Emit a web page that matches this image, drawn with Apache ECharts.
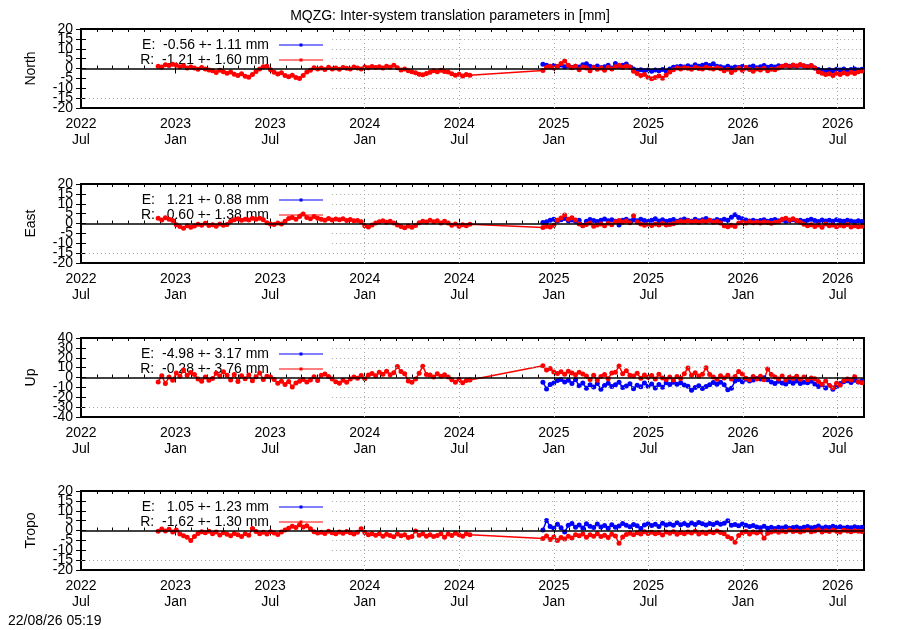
<!DOCTYPE html>
<html>
<head>
<meta charset="utf-8">
<title>MQZG inter-system translation parameters</title>
<script src="https://cdn.jsdelivr.net/npm/echarts@6/dist/echarts.min.js"></script>
<style>
  html, body { margin: 0; padding: 0; background: #fff; }
  #chart { width: 900px; height: 630px; }
</style>
</head>
<body>
<div id="chart"></div>
<script>
// x is counted in days since the left edge of the axis (2022 Jul)
const AXIS_END = "2026-08-21";
const FIRST_START = "2022-11-27";   // first block, red only
const SECOND_START = "2024-12-09";  // second block, red and blue
const STEP_DAYS = 7;
const HALF_YEAR = 182.625;
const KEY_END_DAY = 485;            // grid is hidden under the key left of this

const panelNames = ["North", "East", "Up", "Tropo"];
const panelRange = [20, 20, 40, 20];
const panelStep = [5, 5, 10, 5];
const legendE = ["E:  -0.56 +- 1.11 mm", "E:   1.21 +- 0.88 mm", "E:  -4.98 +- 3.17 mm", "E:   1.05 +- 1.23 mm"];
const legendR = ["R:  -1.21 +- 1.60 mm", "R:   0.60 +- 1.38 mm", "R:  -0.28 +- 3.76 mm", "R:  -1.62 +- 1.30 mm"];

// North
const northR1 = [1.2, 0.8, 1.9, 1.5, 2.1, 1.6, 0.9, 1.4, 0.3, 0.8, 0.2, -0.4, 0.5, -0.2, -0.8,
  -1.1, -2.0, -0.9, -1.6, -2.4, -1.8, -2.9, -3.5, -2.7, -3.9, -4.4, -3.0, -1.5, -0.2, 0.9,
  1.2, -0.6, -1.9, -2.8, -2.2, -3.6, -4.2, -3.4, -4.6, -5.0, -3.5, -1.8, -0.9, 0.4, -0.3,
  0.2, -0.5, 0.6, -0.2, 0.3, -0.4, 0.5, 0.1, -0.3, 0.8, 0.3, -0.2, 0.7, 0.4, 1.0,
  0.5, 0.9, 0.2, 1.1, 0.6, 1.7, 0.4, -0.8, -0.3, -1.2, -1.6, -2.1, -2.9, -3.2, -2.5,
  -1.9, -1.2, -1.7, -0.9, -1.5, -1.8, -2.6, -3.4, -2.9, -3.8, -3.1, -3.4];
const northR2 = [-1.0, 0.6, 1.2, 0.3, 1.0, 2.5, 3.8, 1.6, 0.4, 1.1, -0.6, 0.7, 0.2, -1.1, 0.5,
  -0.4, 0.3, -0.9, 0.6, -0.2, 0.9, 1.6, 0.5, 1.3, 0.8, -1.4, -2.5, -3.6, -3.1, -4.4,
  -5.2, -4.6, -3.8, -4.9, -3.3, -1.8, -0.6, 0.2, -0.3, 0.4, 0.1, -0.4, 0.5, 0.0, -0.2,
  0.6, 0.1, -0.3, 0.4, -0.1, -1.2, -0.4, -2.0, -0.7, 0.2, -0.9, 0.5, -0.5, -1.4, -0.3,
  -0.8, 0.1, -1.1, -0.4, -0.6, 0.2, 1.1, 1.6, 0.9, 1.8, 1.3, 2.0, 1.4, 0.9, 1.5,
  0.3, -1.6, -2.4, -3.1, -2.7, -3.6, -2.4, -3.0, -2.1, -2.8, -1.9, -2.5, -1.6, -1.3];
const northE = [2.2, 1.6, 0.8, 1.5, 1.0, 1.8, 0.9, 1.4, 0.5, 1.2, 0.7, 1.9, 2.4, 1.1, 0.6,
  1.3, 0.4, 0.9, 1.6, 0.2, 2.5, 1.0, 1.7, 2.3, 0.8, -0.3, -0.9, -0.6, -1.2, -0.8,
  -1.4, -0.7, -1.1, -0.5, -1.3, -0.2, 0.6, 0.9, 1.2, 0.7, 1.4, 0.8, 1.9, 1.1, 1.6,
  2.1, 1.5, 2.4, 1.2, 0.9, 0.4, 1.1, 0.3, 0.8, 0.5, 1.0, 0.2, 0.7, 1.3, 0.4,
  0.9, 1.5, 0.6, 1.1, 0.8, 1.4, 1.0, 1.6, 1.2, 1.5, 1.1, 1.7, 1.3, 0.9, 1.4,
  0.2, -0.5, -0.9, -1.1, -0.6, -1.2, -0.4, -0.8, -0.3, -1.0, -0.5, -0.2, -0.7, -0.4];

// East
const eastR1 = [2.6, 1.8, 2.9, 2.2, 1.5, -0.6, -1.5, -2.4, -1.1, -1.9, -1.3, -0.4, -0.9, 0.1, -1.0,
  -0.6, -1.4, -0.2, -0.9, -0.5, 1.1, 1.9, 2.4, 1.6, 2.2, 1.8, 2.7, 2.1, 2.6, 1.9,
  0.4, -0.3, -0.5, 0.2, -0.2, 1.2, 2.5, 3.1, 2.2, 3.6, 4.8, 3.0, 2.4, 3.5, 2.7,
  2.1, 1.6, 2.5, 1.8, 2.3, 1.9, 2.4, 1.5, 2.0, 1.4, 1.5, 0.9, -1.1, -1.8, -0.7,
  0.2, 0.9, 1.4, 0.6, 1.2, 0.3, -0.8, -1.5, -2.2, -1.3, -1.9, -1.0, 0.4, 1.2, 0.7,
  1.6, 0.9, 1.4, 0.3, 1.1, 0.2, -0.9, -0.3, -1.4, -0.6, -1.1, -0.4];
const eastR2 = [-2.0, -1.4, -1.8, -0.9, 1.6, 2.8, 4.3, 2.1, 2.9, 1.8, -0.3, -1.1, -0.5, 0.2, -1.4,
  -0.8, -0.2, -1.2, 0.1, -0.6, 0.9, 1.5, 0.6, 1.3, 0.4, 3.9, 0.8, -0.2, -0.9, -0.4,
  -1.0, -0.3, -0.7, 0.1, -0.8, -0.5, -0.1, 0.6, 1.2, 0.8, 1.4, 0.7, 1.1, 0.5, 1.3,
  0.9, 1.6, 0.6, 1.0, 0.3, -1.2, -1.7, -0.9, -1.5, 0.2, 0.6, 0.2, 0.9, 0.4, 0.7,
  0.3, 0.8, 0.5, 0.1, 0.6, 0.9, 2.1, 2.7, 1.8, 2.4, 1.5, 0.6, -0.4, -1.1, -0.6,
  -1.5, -0.8, -1.9, -0.3, -1.2, -0.7, -1.6, -0.9, -1.3, -0.5, -1.8, -1.1, -1.6, -1.4];
const eastE = [0.5, 0.9, 1.6, 2.2, 1.3, 1.9, 2.5, 1.4, 1.8, 1.1, 1.6, -0.9, 1.2, 2.0, 1.5,
  1.0, 1.7, 2.3, 1.4, 1.9, 1.2, -0.8, 1.6, 2.1, 1.3, 1.8, 1.4, 2.2, 1.5, 1.0,
  1.7, 2.4, 1.3, 1.9, 1.2, 1.5, 2.0, 1.1, 1.8, 2.3, 1.6, 1.2, 2.1, 1.4, 1.9,
  2.5, 1.7, 1.3, 2.0, 1.5, 2.2, 1.6, 3.2, 4.4, 3.1, 2.4, 1.8, 1.3, 1.7, 1.1,
  1.5, 1.9, 1.2, 1.6, 2.0, 1.4, 1.8, 1.1, 1.5, 1.9, 1.3, 1.7, 1.2, 1.6, 2.1,
  1.5, 1.0, 1.8, 1.3, 1.6, 1.2, 1.9, 1.4, 1.1, 1.7, 1.3, 0.9, 1.4, 1.0];

// Up
const upR1 = [-4.5, 1.8, -6.2, 0.5, -2.8, 4.6, 1.2, 7.5, 2.3, 5.1, 3.0, -1.6, -3.8, 0.4, -2.9,
  -1.0, 4.2, 1.5, 5.8, 2.4, -2.6, 3.1, -4.0, 1.8, -1.2, 2.5, -3.4, 0.8, 4.6, -1.9,
  1.2, 0.6, -2.0, -5.8, -3.9, -7.2, -4.1, -9.5, -5.6, -3.8, -1.9, -4.6, -2.5, 0.7, -3.1,
  2.4, 3.6, 0.9, -1.5, -4.2, -5.8, -2.9, -4.7, -1.6, 0.4, -0.8, 1.9, -1.2, 2.6, 4.1,
  1.8, 5.2, 3.4, 6.3, 2.7, 4.8, 11.2, 6.1, 3.9, -3.6, -4.8, -1.5, 4.2, 11.5, 3.1,
  2.6, 0.4, 3.8, 1.2, 2.9, 0.6, -2.4, -4.9, -1.8, -5.2, -3.0, -2.6];
const upR2 = [11.8, 7.5, 9.2, 5.6, 4.1, 5.8, 3.2, 6.4, 4.5, 2.9, 5.2, 3.6, 1.4, -1.9, 2.2,
  -2.8, 0.9, 3.1, -1.2, 4.6, 5.3, 11.6, 3.8, 6.9, 2.4, 1.5, 4.2, -0.8, 2.6, 0.3,
  1.9, -1.4, 3.3, -0.6, -2.1, 0.4, -2.5, 1.1, -0.9, 3.8, 9.6, 2.2, 4.9, 1.5, 3.4,
  9.8, 3.0, 0.6, -1.8, 1.7, -0.5, 2.4, -1.6, 1.1, 6.2, 3.5, -0.8, -2.4, 0.9, -1.6,
  1.2, -2.2, 8.6, 3.1, 0.4, -1.4, 1.6, -2.6, 0.2, -0.9, 1.3, -1.8, 0.5, -2.3, -0.6,
  -1.2, -4.1, -6.8, -3.5, -8.2, -10.5, -5.7, -7.9, -3.2, -1.4, -2.6, 0.8, -4.3, -5.2];
const upE = [-4.8, -11.6, -7.2, -5.5, -3.1, -1.9, -4.6, -2.8, -6.1, -2.3, -8.4, -5.6, -10.9, -7.3, -9.5,
  -6.2, -11.8, -8.1, -5.9, -9.0, -7.4, -4.8, -10.2, -8.6, -6.3, -11.5, -7.8, -9.4, -5.6, -8.9,
  -6.7, -10.6, -7.1, -9.8, -5.4, -7.2, -4.9, -6.8, -5.3, -7.6, -8.8, -12.9, -10.1, -8.3, -11.2,
  -9.0, -7.4, -5.1, -6.8, -4.9, -7.3, -12.4, -10.8, -3.6, -2.1, -4.2, -1.8, -3.5, -2.6, -0.9,
  -1.5, -0.3, -2.4, -4.6, -6.1, -3.8, -5.5, -6.7, -4.1, -5.9, -3.6, -6.2, -4.8, -5.3, -3.9,
  -6.5, -9.1, -7.4, -10.6, -8.2, -11.9, -9.3, -6.0, -4.4, -3.2, -5.1, -2.8, -4.6, -3.5];

// Tropo
const tropoR1 = [-0.4, 0.8, -0.2, 0.6, -0.7, 0.3, -1.8, -2.6, -3.4, -5.0, -3.1, -1.5, -0.6, -1.2, -0.4,
  -1.6, -0.8, -2.3, -1.1, -1.9, -2.6, -1.5, -2.2, -3.0, -1.7, -2.4, 1.0, -0.5, -1.6, -0.9,
  -1.8, -0.6, -1.3, -2.0, -0.8, 0.3, 1.2, 2.1, 1.5, 2.9, 1.8, 2.4, 0.9, -0.6, -1.3,
  -0.9, -1.5, -0.4, -1.1, -1.7, -0.8, -1.4, -0.5, -1.2, -1.8, -0.9, 0.9, -1.0, -2.1, -1.6,
  -2.4, -1.7, -2.9, -1.9, -2.5, -3.2, -1.8, -2.6, -2.1, -3.5, -3.0, -0.2, -2.4, -1.6, -2.9,
  -2.2, -3.1, -2.5, -1.7, -3.4, -1.8, -2.5, -1.4, -2.2, -2.9, -1.6, -2.1];
const tropoR2 = [-4.0, -2.8, -4.6, -3.3, -5.0, -3.6, -4.3, -2.9, -3.8, -2.2, -2.7, -1.8, -3.4, -2.1, -2.9,
  -1.6, -3.1, -2.4, -3.6, -1.9, -2.8, -6.5, -3.3, -2.0, -1.4, -2.2, -1.1, -1.8, -0.6, -1.5,
  -0.9, -1.7, -1.2, -2.3, -0.8, -1.4, -0.6, -1.9, -1.0, -1.6, -0.7, -1.3, -0.4, -1.8, -0.9,
  -1.5, -0.6, -1.2, -0.3, -1.0, -1.6, -3.2, -4.1, -6.0, -2.5, -1.2, -0.5, -1.8, -0.8, -1.3,
  -0.6, -3.9, -1.4, -0.7, -0.2, -0.9, -0.3, -0.6, 0.2, -0.5, -0.1, -0.8, -0.3, 0.3, -0.6,
  -0.2, 0.4, -0.7, -0.1, -0.5, 0.2, -0.4, -0.8, 0.1, -0.3, -0.6, -0.1, -0.4, -0.5];
const tropoE = [0.2, 5.1, 2.0, 1.1, 3.2, 1.4, -0.8, 2.6, 3.6, 1.7, 2.8, 1.3, 3.4, 2.1, 1.5,
  3.3, 1.8, 2.5, 1.2, 2.9, 1.6, 2.3, 3.5, 2.7, 1.9, 3.1, 2.4, 1.0, 2.8, 3.4,
  2.5, 3.2, 2.0, 3.7, 2.8, 3.3, 2.6, 3.9, 2.9, 3.5, 2.7, 3.8, 3.1, 4.0, 3.4,
  2.8, 3.6, 3.0, 3.9, 3.2, 3.7, 5.0, 2.6, 3.1, 2.4, 3.3, 2.7, 2.0, 2.5, 1.8,
  1.4, 2.1, 1.2, 1.7, 1.0, 1.6, 1.3, 1.9, 1.1, 1.5, 1.8, 1.2, 1.6, 2.0, 1.4,
  1.7, 2.3, 1.3, 1.8, 1.5, 2.2, 1.6, 1.9, 1.3, 1.7, 1.4, 1.9, 1.5, 1.6];

const redBlocks = [[northR1, northR2], [eastR1, eastR2], [upR1, upR2], [tropoR1, tropoR2]];
const blueValues = [northE, eastE, upE, tropoE];

const panelTops = [29, 184, 338, 491];
const PANEL_HEIGHT = 79;
const GRID_LEFT = 81;
const GRID_WIDTH = 783;
const FONT = "Liberation Sans, Arial, sans-serif";

function dayOf(text) {
  const [y, m, d] = text.split("-").map(Number);
  return (Date.UTC(y, m - 1, d) - Date.UTC(2022, 6, 1)) / 86400000;
}

function toPoints(startText, values) {
  const start = dayOf(startText);
  return values.map((v, i) => [start + i * STEP_DAYS, v]);
}

function tickLabel(value) {
  const n = Math.round(value / HALF_YEAR);
  if (Math.abs(value - n * HALF_YEAR) > 1) return "";
  const year = 2022 + Math.ceil(n / 2);
  return year + "\n" + (n % 2 === 0 ? "Jul" : "Jan");
}

const xMax = dayOf(AXIS_END);
const chart = echarts.init(document.getElementById("chart"));

const grids = [];
const xAxes = [];
const yAxes = [];
const series = [];
const graphics = [];
const labelStyle = { color: "#000", fontSize: 14, fontFamily: FONT, margin: 8 };
const tickStyle = { color: "#000", width: 1 };

panelNames.forEach((name, p) => {
  const range = panelRange[p];
  const step = panelStep[p];
  grids.push({
    left: GRID_LEFT, top: panelTops[p], width: GRID_WIDTH, height: PANEL_HEIGHT,
    show: true, borderColor: "#000", borderWidth: 2, backgroundColor: "transparent",
  });

  const xBase = { type: "value", gridIndex: p, min: 0, max: xMax, splitLine: { show: false }, axisLine: { show: false } };
  // bottom: major ticks with labels
  xAxes.push({
    ...xBase, position: "bottom", interval: HALF_YEAR,
    axisTick: { inside: true, length: 5, lineStyle: tickStyle },
    axisLabel: { ...labelStyle, formatter: tickLabel, lineHeight: 16 },
  });
  // bottom: monthly minor ticks
  xAxes.push({
    ...xBase, position: "bottom", interval: HALF_YEAR / 6, axisLabel: { show: false },
    axisTick: { inside: true, length: 3, lineStyle: tickStyle },
  });
  // top mirror, major and minor
  xAxes.push({
    ...xBase, position: "top", interval: HALF_YEAR, axisLabel: { show: false },
    axisTick: { inside: true, length: 5, lineStyle: tickStyle },
  });
  xAxes.push({
    ...xBase, position: "top", interval: HALF_YEAR / 6, axisLabel: { show: false },
    axisTick: { inside: true, length: 3, lineStyle: tickStyle },
  });

  const yBase = { type: "value", gridIndex: p, min: -range, max: range, axisLine: { show: false }, splitLine: { show: false } };
  // left: inner tick labels (the end labels come from the next axis)
  yAxes.push({
    ...yBase, interval: step, position: "left",
    name: name, nameLocation: "middle", nameGap: 43,
    nameTextStyle: { color: "#000", fontSize: 14, fontFamily: FONT },
    axisTick: { inside: true, length: 5, lineStyle: tickStyle },
    axisLabel: { ...labelStyle, showMinLabel: false, showMaxLabel: false },
  });
  // left: only the end labels
  yAxes.push({
    ...yBase, interval: 2 * range, position: "left",
    axisTick: { show: false },
    axisLabel: { ...labelStyle, showMinLabel: true, showMaxLabel: true },
  });
  // right mirror ticks
  yAxes.push({
    ...yBase, interval: step, position: "right", axisLabel: { show: false },
    axisTick: { inside: true, length: 5, lineStyle: tickStyle },
  });

  const xi = p * 4;
  const yi = p * 3;

  // dotted grid, hidden under the key in the upper left
  const gridLines = [];
  for (let v = -range + step; v < range; v += step) {
    if (v === 0) continue;
    const from = v === -range + step ? 0 : KEY_END_DAY;
    gridLines.push([{ coord: [from, v] }, { coord: [xMax, v] }]);
  }
  for (let n = 3; n * HALF_YEAR < xMax; n++) {
    gridLines.push([{ coord: [n * HALF_YEAR, -range] }, { coord: [n * HALF_YEAR, range] }]);
  }
  series.push({
    type: "line", xAxisIndex: xi, yAxisIndex: yi, data: [], z: 1, silent: true,
    markLine: {
      silent: true, animation: false, symbol: ["none", "none"], label: { show: false },
      lineStyle: { color: "#a8a8a8", type: [1, 3], width: 1 },
      data: gridLines,
    },
  });

  series.push({
    name: "E", type: "line", xAxisIndex: xi, yAxisIndex: yi, z: 2,
    data: toPoints(SECOND_START, blueValues[p]),
    symbol: "circle", symbolSize: 5, showSymbol: true,
    lineStyle: { color: "#0000ff", width: 1.5 },
    itemStyle: { color: "#0000ff" },
    animation: false,
  });
  series.push({
    name: "R", type: "line", xAxisIndex: xi, yAxisIndex: yi, z: 2,
    data: toPoints(FIRST_START, redBlocks[p][0]).concat(toPoints(SECOND_START, redBlocks[p][1])),
    symbol: "circle", symbolSize: 5, showSymbol: true,
    lineStyle: { color: "#ff0000", width: 1.5 },
    itemStyle: { color: "#ff0000" },
    animation: false,
  });

  // zero line over the data
  series.push({
    type: "line", xAxisIndex: xi, yAxisIndex: yi, data: [], z: 3, silent: true,
    markLine: {
      silent: true, animation: false, symbol: ["none", "none"], label: { show: false },
      lineStyle: { color: "#000", type: "solid", width: 1.5 },
      data: [{ yAxis: 0 }],
    },
  });

  // gnuplot style key
  const top = panelTops[p];
  [[legendE[p], "#0000ff", 16], [legendR[p], "#ff0000", 31]].forEach(([label, color, dy]) => {
    graphics.push({
      type: "text", z: 1, x: 269, y: top + dy,
      style: { text: label, fill: "#000", font: "14px " + FONT, textAlign: "right", textVerticalAlign: "middle" },
    });
    graphics.push({
      type: "line", z: 1, shape: { x1: 279, y1: top + dy, x2: 323, y2: top + dy },
      style: { stroke: color, lineWidth: 1 },
    });
    graphics.push({
      type: "rect", z: 1, shape: { x: 299.5, y: top + dy - 1.5, width: 3, height: 3 },
      style: { fill: color },
    });
  });
});

graphics.push({
  type: "text", left: 8, top: 614,
  style: { text: "22/08/26 05:19", fill: "#000", font: "14px " + FONT },
});

chart.setOption({
  backgroundColor: "#fff",
  animation: false,
  title: {
    text: "MQZG: Inter-system translation parameters in [mm]",
    left: "center", top: 4,
    textStyle: { color: "#000", fontSize: 14, fontWeight: "normal", fontFamily: FONT },
  },
  grid: grids,
  xAxis: xAxes,
  yAxis: yAxes,
  series: series,
  graphic: graphics,
});
</script>
</body>
</html>
